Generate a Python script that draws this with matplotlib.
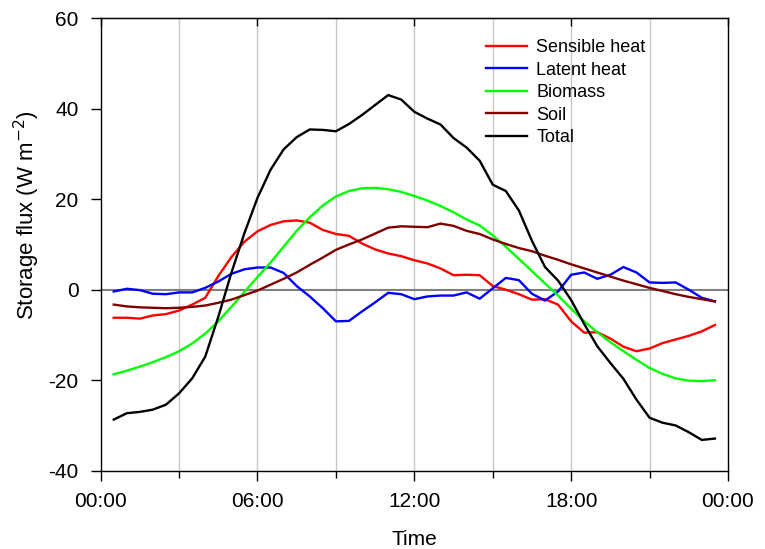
import numpy as np
import matplotlib
matplotlib.use("Agg")
import matplotlib.pyplot as plt
from matplotlib.ticker import MultipleLocator, FuncFormatter

plt.rcParams['font.family'] = ['Liberation Sans', 'DejaVu Sans']
plt.rcParams['axes.unicode_minus'] = False

# half-hourly time stamps (hours)
hours = np.arange(0.5, 24.0, 0.5)

sensible = [-6.2, -6.2, -6.4, -5.7, -5.4, -4.6, -3.3, -1.8, 3.0, 7.2, 10.6, 12.9,
            14.3, 15.1, 15.3, 14.8, 13.2, 12.3, 11.9, 10.2, 8.9, 8.0, 7.4, 6.5,
            5.8, 4.7, 3.2, 3.3, 3.2, 0.8, 0.0, -1.0, -2.2, -2.1, -3.3, -7.0,
            -9.5, -9.4, -10.8, -12.6, -13.6, -13.0, -11.8, -11.0, -10.2, -9.2, -7.8]

latent = [-0.4, 0.2, -0.1, -0.9, -1.0, -0.6, -0.6, 0.4, 1.8, 3.5, 4.5, 4.9,
          4.9, 3.7, 0.8, -1.5, -4.1, -7.0, -6.9, -4.8, -2.8, -0.7, -1.0, -2.1,
          -1.5, -1.3, -1.3, -0.6, -2.0, 0.3, 2.6, 2.1, -0.9, -2.4, -0.4, 3.3,
          3.8, 2.4, 3.3, 5.0, 3.8, 1.6, 1.5, 1.6, 0.0, -1.8, -2.6]

biomass = [-18.7, -17.9, -17.0, -16.0, -14.9, -13.6, -11.9, -9.7, -7.0, -3.8, -0.5, 2.8,
           6.0, 9.5, 13.0, 16.0, 18.6, 20.6, 21.8, 22.4, 22.5, 22.2, 21.6, 20.7,
           19.7, 18.5, 17.1, 15.5, 14.2, 12.0, 9.5, 6.8, 4.1, 1.4, -1.3, -4.2,
           -7.0, -9.4, -11.6, -13.6, -15.5, -17.3, -18.6, -19.6, -20.1, -20.2, -20.0]

soil = [-3.3, -3.7, -3.9, -4.0, -4.1, -4.0, -3.8, -3.5, -2.9, -2.2, -1.2, -0.2,
        1.1, 2.4, 3.8, 5.5, 7.1, 8.8, 10.0, 11.1, 12.4, 13.7, 14.0, 13.9,
        13.8, 14.6, 14.1, 13.0, 12.3, 11.1, 10.1, 9.2, 8.5, 7.5, 6.6, 5.6,
        4.7, 3.8, 2.9, 2.0, 1.2, 0.4, -0.3, -1.0, -1.6, -2.1, -2.6]

total = [-28.7, -27.3, -27.0, -26.5, -25.4, -22.9, -19.6, -14.8, -6.0, 3.7, 12.5, 20.3,
         26.5, 31.0, 33.7, 35.4, 35.3, 35.0, 36.6, 38.6, 40.8, 43.0, 42.0, 39.3,
         37.8, 36.5, 33.5, 31.4, 28.5, 23.2, 21.8, 17.5, 10.8, 5.0, 2.0, -2.3,
         -7.6, -12.5, -16.2, -19.7, -24.3, -28.3, -29.4, -30.0, -31.5, -33.2, -32.9]

series = [
    ("Sensible heat", sensible, "#ff0000"),
    ("Latent heat", latent, "#0000ff"),
    ("Biomass", biomass, "#00ff00"),
    ("Soil", soil, "#800000"),
    ("Total", total, "#000000"),
]

fig = plt.figure(figsize=(7.65, 5.49), dpi=100)
ax = fig.add_axes([0.1316, 0.1426, 0.82, 0.8244])

# vertical grid every 3 h and zero line
for g in np.arange(3, 24, 3):
    ax.axvline(g, color="#c8c8c0", lw=1.0, zorder=0)
ax.axhline(0, color="#808080", lw=1.5, zorder=1)

for name, vals, col in series:
    ax.plot(hours, vals, color=col, lw=1.7, label=name, zorder=3)

ax.set_xlim(0, 24)
ax.set_ylim(-40, 60)
ax.xaxis.set_major_locator(MultipleLocator(6))
ax.xaxis.set_minor_locator(MultipleLocator(3))
ax.xaxis.set_major_formatter(FuncFormatter(lambda v, p: "%02d:00" % (int(round(v)) % 24)))
ax.yaxis.set_major_locator(MultipleLocator(20))

ax.tick_params(axis="x", which="major", direction="out", length=7, width=1,
               labelsize=15, pad=8)
ax.tick_params(axis="x", which="minor", direction="out", length=5, width=1)
ax.tick_params(axis="y", direction="out", length=7, width=1, labelsize=15, pad=9)

# inward ticks on the top frame
top = ax.secondary_xaxis("top")
top.xaxis.set_major_locator(MultipleLocator(6))
top.tick_params(direction="in", length=6, width=1, labeltop=False)

for s in ax.spines.values():
    s.set_linewidth(1.0)

ax.set_xlabel("Time", fontsize=15, labelpad=14)
ax.set_ylabel("Storage flux (W m$^{-2}$)", fontsize=16)
ax.yaxis.set_label_coords(-0.094, 0.565)

ax.legend(loc="upper left", bbox_to_anchor=(0.614, 0.953), frameon=False,
          fontsize=13, handlelength=2.3, handletextpad=0.5, labelspacing=0.3,
          borderpad=0, borderaxespad=0)

fig.savefig("out.png", dpi=100)
